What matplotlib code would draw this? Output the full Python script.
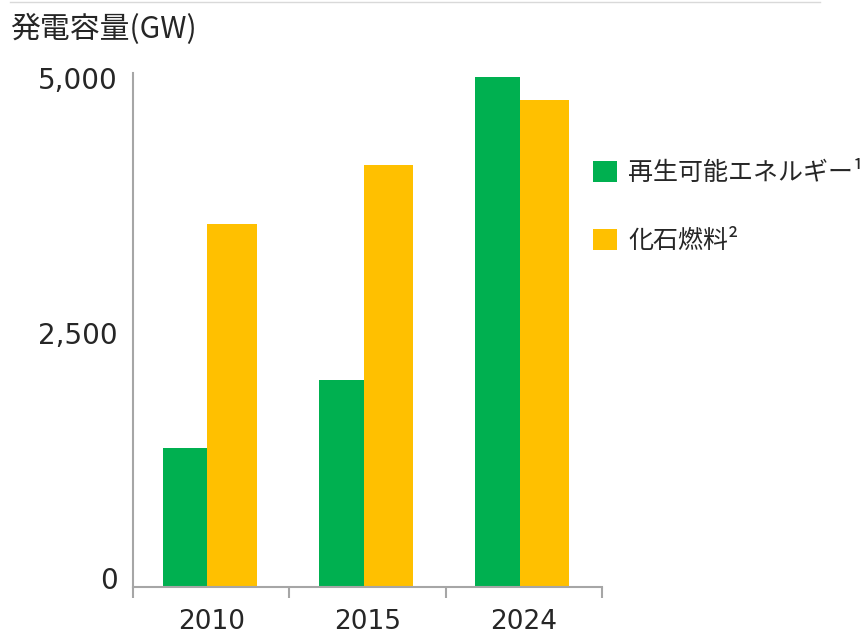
import matplotlib
matplotlib.use("Agg")
import matplotlib.pyplot as plt
from matplotlib.patches import Patch
from matplotlib.lines import Line2D
from matplotlib.transforms import ScaledTranslation

plt.rcParams['font.family'] = ['Noto Sans CJK JP', 'DejaVu Sans']

years = ['2010', '2015', '2024']
renewable = [1365, 2035, 5010]
fossil = [3565, 4145, 4785]
series_names = ['再生可能エネルギー¹', '化石燃料²']
yticks = [0, 2500, 5000]

green = '#00B050'
yellow = '#FFC000'
axis_gray = '#A6A6A6'
text_col = '#262626'

fig = plt.figure(figsize=(8.68, 6.37), dpi=100)
ax = fig.add_axes([133 / 868, 1 - 587 / 637, 469 / 868, 514 / 637])

x = list(range(len(years)))
ax.bar([i - 0.31 for i in x], renewable, width=0.285, align='edge', color=green)
ax.bar([i - 0.025 for i in x], fossil, width=0.315, align='edge', color=yellow)

ax.set_xlim(-0.5, len(years) - 0.5)
ax.set_ylim(0, 5050)

# axes styling
for side in ['top', 'right']:
    ax.spines[side].set_visible(False)
for side in ['left', 'bottom']:
    ax.spines[side].set_color(axis_gray)
    ax.spines[side].set_linewidth(1.5)

ax.set_yticks(yticks)
ax.set_yticklabels([f'{v:,}' for v in yticks], fontfamily='DejaVu Sans',
                   fontsize=20, color=text_col)
ax.tick_params(axis='y', length=0, pad=11)
# the zero label sits a little above the axis line in the original
zero_lbl = ax.get_yticklabels()[0]
zero_lbl.set_transform(zero_lbl.get_transform()
                       + ScaledTranslation(0, 9 / 100, fig.dpi_scale_trans))

ax.set_xticks(x)
ax.set_xticklabels(years, fontfamily='DejaVu Sans', fontsize=19, color=text_col)
ax.tick_params(axis='x', which='major', length=0, pad=16)
ax.set_xticks([i - 0.5 for i in range(len(years) + 1)], minor=True)
ax.tick_params(axis='x', which='minor', length=8, width=1.5, color=axis_gray,
               direction='out')

# unit label
fig.text(10 / 868, 1 - 29 / 637, '発電容量(GW)', fontsize=21.5, color=text_col,
         va='center', ha='left')

# legend
handles = [Patch(facecolor=green), Patch(facecolor=yellow)]
fig.legend(handles, series_names, loc='upper left',
           bbox_to_anchor=(593 / 868, 1 - 160 / 637), frameon=False,
           borderpad=0, borderaxespad=0,
           fontsize=18, labelcolor=text_col, handlelength=0.95,
           handleheight=0.95, handletextpad=0.45, labelspacing=1.68)

# faint rule at the top
fig.add_artist(Line2D([10 / 868, 820 / 868], [1 - 1.5 / 637, 1 - 1.5 / 637],
                      transform=fig.transFigure, color='#D9D9D9', linewidth=1))

fig.savefig('out.png', dpi=100)
